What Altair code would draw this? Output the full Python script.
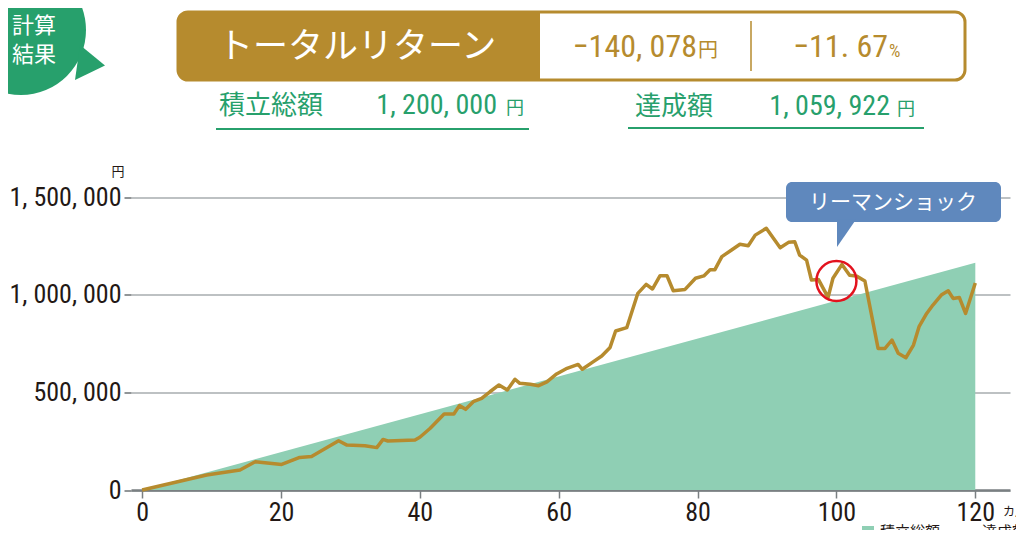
import altair as alt
import pandas as pd

# ---- data ----
contrib_month = [0, 120]
contrib_value = [0, 1163000]

line_month = [0, 9.3, 14.1, 16.3, 20.1, 22.7, 24.4, 28.3, 29.5, 32.1, 33.8, 34.7, 35.4,
              39.3, 40.0, 41.5, 43.5, 44.9, 45.7, 46.6, 47.7, 48.9, 50.1, 51.4, 52.6,
              53.7, 54.4, 55.9, 57.1, 58.3, 59.7, 61.2, 62.8, 63.4, 65.0, 66.2, 67.4,
              68.2, 69.8, 71.4, 72.6, 73.5, 74.6, 75.6, 76.5, 78.2, 79.7, 80.9, 81.8,
              82.5, 83.5, 84.9, 86.1, 87.3, 88.3, 89.9, 91.9, 93.1, 94.0, 94.7, 95.7,
              96.4, 97.4, 98.1, 98.8, 99.5, 100.8, 101.9, 102.9, 104.1, 106.0, 107.0,
              108.0, 108.9, 110.0, 111.1, 111.9, 113.0, 113.9, 115.1, 116.1, 116.8,
              117.7, 118.6, 120.0]
line_value = [0, 77000, 102000, 145000, 131000, 167000, 171000, 252000, 230000, 227000,
              217000, 259000, 251000, 256000, 270000, 316000, 389000, 389000, 432000,
              413000, 452000, 469000, 503000, 538000, 512000, 567000, 546000, 541000,
              534000, 554000, 594000, 623000, 643000, 618000, 657000, 686000, 730000,
              814000, 831000, 1007000, 1053000, 1029000, 1097000, 1097000, 1020000,
              1027000, 1084000, 1096000, 1128000, 1128000, 1195000, 1229000, 1258000,
              1251000, 1305000, 1340000, 1240000, 1268000, 1271000, 1203000, 1177000,
              1075000, 1078000, 1032000, 986000, 1084000, 1155000, 1100000, 1095000,
              1070000, 725000, 725000, 768000, 700000, 677000, 742000, 836000, 904000,
              947000, 998000, 1020000, 981000, 986000, 904000, 1059922]

x_ticks = [0, 20, 40, 60, 80, 100, 120]
y_ticks = [0, 500000, 1000000, 1500000]
marker_month = [100]
marker_value = [1070000]

header_title = "トータルリターン"
header_return = "−140, 078"
header_pct = "−11. 67"
total_label = "積立総額"
total_value = "1, 200, 000"
final_label = "達成額"
final_value = "1, 059, 922"
callout_text = "リーマンショック"

# ---- styling ----
GOLD = "#b68b2e"
GREEN = "#27a06c"
AREA = "#8fcfb4"
BLUE = "#5f88bd"
RED = "#e3121e"
DARK = "#231815"
JP = "Noto Sans CJK JP"
NUM = "Liberation Sans Narrow, Roboto Condensed, Liberation Sans, sans-serif"

SVG_W = 1008
SVG_H = 522
PLOT_W = 879
PLOT_H = 312.5
PAD_L = 123
PAD_T = 169.5
OX = 8 + PAD_L      # page x of plot origin
OY = 8 + PAD_T      # page y of plot origin


def px(X):
    return X - OX


def py(Y):
    return Y - OY


def one():
    return pd.DataFrame({"t": [""]})


def text(s, X, Y, size, color, font=JP, align="center", baseline="middle", weight="normal"):
    return alt.Chart(pd.DataFrame({"t": [s]})).mark_text(
        fontSize=size, color=color, font=font, align=align, baseline=baseline,
        fontWeight=weight
    ).encode(x=alt.value(px(X)), y=alt.value(py(Y)), text="t:N")


def rect(X1, X2, Y1, Y2, **kw):
    return alt.Chart(one()).mark_rect(**kw).encode(
        x=alt.value(px(X1)), x2=alt.value(px(X2)), y=alt.value(py(Y1)), y2=alt.value(py(Y2))
    )


def rule(X1, X2, Y1, Y2, color, width):
    return alt.Chart(one()).mark_rule(color=color, strokeWidth=width).encode(
        x=alt.value(px(X1)), x2=alt.value(px(X2)), y=alt.value(py(Y1)), y2=alt.value(py(Y2))
    )


def shape(path, X, Y, size, color):
    return alt.Chart(one()).mark_point(
        shape=path, filled=True, size=size, color=color, opacity=1, strokeWidth=0
    ).encode(x=alt.value(px(X)), y=alt.value(py(Y)))


xscale = alt.Scale(domain=[-1.6, 125], nice=False, zero=False)
yscale = alt.Scale(domain=[0, 1600000], nice=False)

area_df = pd.DataFrame({"month": contrib_month, "value": contrib_value})
line_df = pd.DataFrame({"month": line_month, "value": line_value})
mark_df = pd.DataFrame({"month": marker_month, "value": marker_value})

xaxis = alt.Axis(values=x_ticks, title=None, grid=False, labelFont=NUM, labelFontSize=26,
                 labelColor=DARK, tickColor="#7a7f82", tickSize=8, tickWidth=1.5,
                 domainColor="#7a7f82", domainWidth=2.5, labelPadding=1, labelFlush=False)
yaxis = alt.Axis(values=y_ticks, title=None, grid=True, gridColor="#a7adaf", gridWidth=1.5,
                 domain=False, labelFont=NUM, labelFontSize=26, labelColor=DARK,
                 tickColor="#6d7275", tickSize=7, tickWidth=1.5, labelPadding=3,
                 labelExpr="replace(format(datum.value, ','), /,/g, ', ')")

area = alt.Chart(area_df).mark_area(color=AREA, opacity=1).encode(
    x=alt.X("month:Q", scale=xscale, axis=xaxis),
    y=alt.Y("value:Q", scale=yscale, axis=yaxis),
)
line = alt.Chart(line_df).mark_line(color=GOLD, strokeWidth=3.5, strokeJoin="round").encode(
    x=alt.X("month:Q", scale=xscale),
    y=alt.Y("value:Q", scale=yscale),
)
ring = alt.Chart(mark_df).mark_point(shape="circle", filled=False, size=1600, color=RED,
                                     strokeWidth=2.5, opacity=1).encode(
    x=alt.X("month:Q", scale=xscale),
    y=alt.Y("value:Q", scale=yscale),
)

layers = [area, line, ring]

# green "計算結果" bubble
layers.append(shape("circle", 21, 30, 16900, GREEN))
layers.append(shape("M -0.5 -0.85 L 0.75 0.175 L -0.75 0.9 Z", 90, 62, 1600, GREEN))
layers.append(text("計算", 34, 26, 22, "white"))
layers.append(text("結果", 34, 55, 22, "white"))

# header box
layers.append(rect(178, 965, 12, 80, fill="white", stroke=GOLD, strokeWidth=3, cornerRadius=10))
layers.append(rect(178, 540, 12, 80, fill=GOLD, cornerRadiusTopLeft=10, cornerRadiusBottomLeft=10))
layers.append(rule(751, 751, 21, 71, GOLD, 1.5))
layers.append(text(header_title, 357, 47, 35, "white"))
layers.append(text(header_return, 697, 47, 32, GOLD, font=NUM, align="right"))
layers.append(text("円", 698, 51, 20, GOLD, align="left"))
layers.append(text(header_pct, 888, 47, 32, GOLD, font=NUM, align="right"))
layers.append(text("%", 889, 52, 18, GOLD, font=NUM, align="left"))

# second row
layers.append(text(total_label, 219, 106, 26, GREEN, align="left"))
layers.append(text(total_value, 497, 106, 28, GREEN, font=NUM, align="right"))
layers.append(text("円", 506, 109, 18, GREEN, align="left"))
layers.append(rule(216, 529, 129, 129, GREEN, 2))
layers.append(text(final_label, 635, 107, 26, GREEN, align="left"))
layers.append(text(final_value, 890, 107, 28, GREEN, font=NUM, align="right"))
layers.append(text("円", 897, 110, 18, GREEN, align="left"))
layers.append(rule(628, 924, 128, 128, GREEN, 2))

# axis units
layers.append(text("円", 118, 172, 13, DARK))
layers.append(text("カ月", 1003, 512, 12, DARK, align="left"))

# legend (partly cut by the bottom edge, as in the reference)
layers.append(rect(862, 874, 526, 538, fill=AREA))
layers.append(text(total_label, 880, 525, 15, DARK, align="left", baseline="top"))
layers.append(rule(948, 976, 533, 533, GOLD, 3))
layers.append(text(final_label, 982, 525, 15, DARK, align="left", baseline="top"))

# callout
layers.append(rect(786, 1001, 182, 222, fill=BLUE, cornerRadius=6))
layers.append(shape("M -0.6 -0.9 L 0.667 -0.9 L -0.6 0.933 Z", 846, 233, 900, BLUE))
layers.append(text(callout_text, 893, 203, 21, "white"))

chart = alt.layer(*layers).properties(
    width=PLOT_W, height=PLOT_H,
    autosize=alt.AutoSizeParams(type="none"),
    padding={"left": PAD_L, "top": PAD_T, "right": SVG_W - PAD_L - PLOT_W,
             "bottom": SVG_H - PAD_T - PLOT_H},
    background="white",
).configure_view(stroke=None)

chart.save("out.html", embed_options={"renderer": "svg", "actions": False})
